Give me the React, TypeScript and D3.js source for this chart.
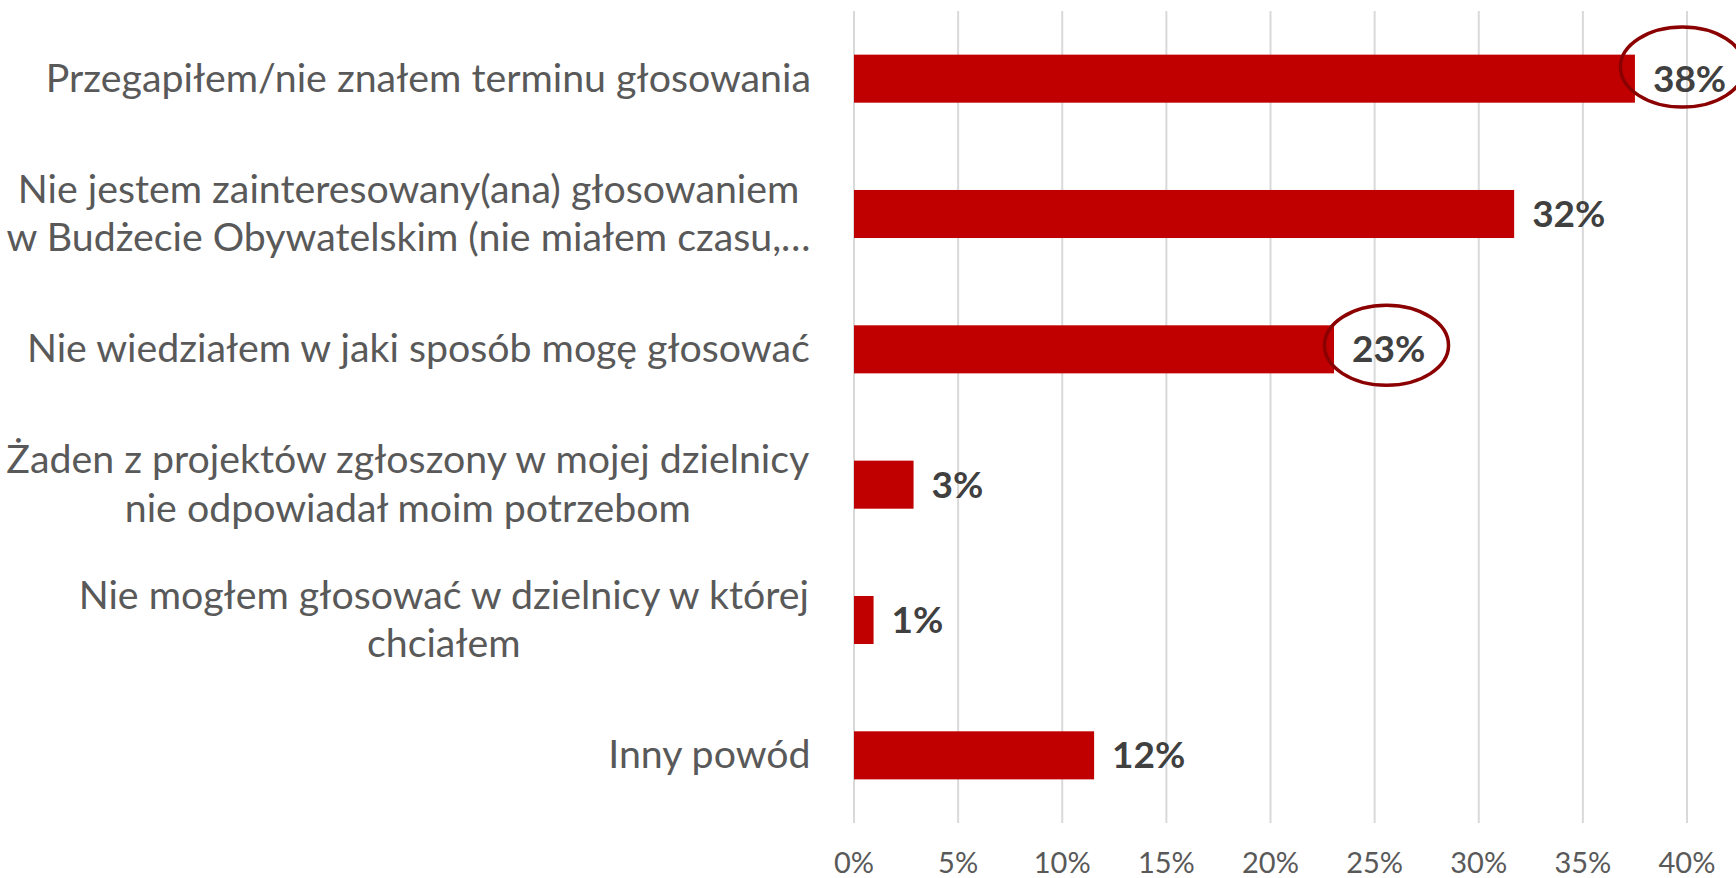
import React from "react";
import * as d3 from "d3";

const categories: string[][] = [
  ["Przegapiłem/nie znałem terminu głosowania"],
  ["Nie jestem zainteresowany(ana) głosowaniem", "w Budżecie Obywatelskim (nie miałem czasu,…"],
  ["Nie wiedziałem w jaki sposób mogę głosować"],
  ["Żaden z projektów zgłoszony w mojej dzielnicy", "nie odpowiadał moim potrzebom"],
  ["Nie mogłem głosować w dzielnicy w której", "chciałem"],
  ["Inny powód"],
];
const values: number[] = [37.5, 31.7, 23.05, 2.86, 0.94, 11.53];
const tickValues: number[] = [0, 5, 10, 15, 20, 25, 30, 35, 40];
const highlighted: number[] = [0, 2];

const W = 1736;
const H = 878;
const FONT = "Lato, 'Open Sans', sans-serif";
const CAT_SIZE = 39.3;

let ctx: CanvasRenderingContext2D | null = null;
function measure(s: string): number {
  if (!ctx) {
    const c = document.createElement("canvas");
    ctx = c.getContext("2d");
  }
  if (!ctx) return s.length * CAT_SIZE * 0.45;
  ctx.font = `${CAT_SIZE}px Lato, 'Open Sans', sans-serif`;
  return ctx.measureText(s).width;
}

export default function App() {
  const x = d3.scaleLinear().domain([0, 40]).range([854, 1687]);
  const ids = categories.map((_, i) => String(i));
  const y = d3
    .scaleBand<string>()
    .domain(ids)
    .range([11, 823])
    .paddingInner(0.645)
    .paddingOuter(0.3225);
  const bw = y.bandwidth();
  const annotOffsets: Record<number, { dx: number; dy: number }> = {
    0: { dx: -6.5, dy: -11.6 },
    2: { dx: -1.5, dy: -4 },
  };
  const lineH = 48.7;
  const labelRight = 811;

  return (
    <svg
      width={W}
      height={H}
      style={{ position: "absolute", left: 0, top: 0, background: "#fff" }}
      fontFamily={FONT}
    >
      {tickValues.map((t) => (
        <g key={t}>
          <line x1={x(t)} x2={x(t)} y1={11} y2={823} stroke="#D9D9D9" strokeWidth={2} />
          <text x={x(t)} y={873} textAnchor="middle" fontSize={29} fill="#595959">
            {t}%
          </text>
        </g>
      ))}
      {values.map((v, i) => {
        const yc = (y(String(i)) as number) + bw / 2;
        const lines = categories[i];
        const n = lines.length;
        const maxW = Math.max(...lines.map(measure));
        const cx = labelRight - maxW / 2;
        return (
          <g key={i}>
            <rect x={x(0)} y={yc - bw / 2} width={x(v) - x(0)} height={bw} fill="#C00000" />
            <text x={x(v) + 18} y={yc + 13} fontSize={37} fontWeight="bold" fill="#404040">
              {Math.round(v)}%
            </text>
            {lines.map((ln, k) => (
              <text
                key={k}
                x={cx}
                y={yc + 13 + (k - (n - 1) / 2) * lineH}
                textAnchor="middle"
                fontSize={CAT_SIZE}
                fill="#595959"
              >
                {ln}
              </text>
            ))}
          </g>
        );
      })}
      {highlighted.map((i) => {
        const yc = (y(String(i)) as number) + bw / 2;
        const o = annotOffsets[i];
        return (
          <ellipse
            key={"e" + i}
            cx={x(values[i]) + 54 + o.dx}
            cy={yc + o.dy}
            rx={62}
            ry={40}
            fill="none"
            stroke="#8B0000"
            strokeWidth={3.5}
          />
        );
      })}
    </svg>
  );
}
